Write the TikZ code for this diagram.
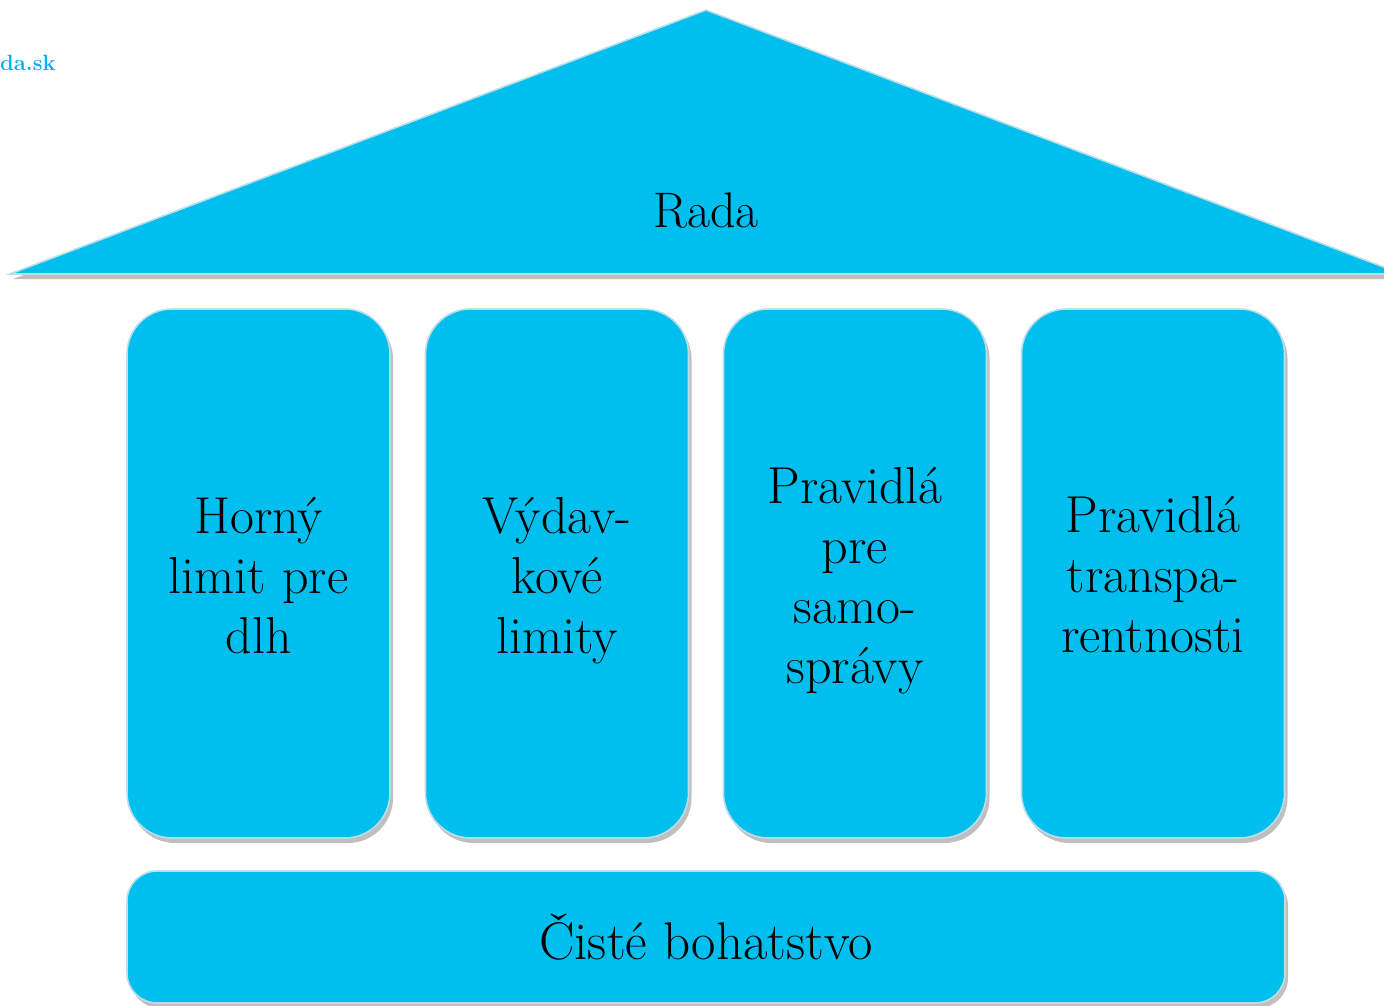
\documentclass[tikz,border=0pt]{standalone}
\usetikzlibrary{shadows}
\definecolor{pillarfill}{RGB}{0,191,238}
\definecolor{pillaredge}{RGB}{188,222,230}
\definecolor{linkblue}{RGB}{0,176,240}
\tikzset{
  pshadow/.style={drop shadow={shadow xshift=3pt, shadow yshift=-5pt, fill=black, opacity=0.25}},
  pillar/.style={pshadow, draw=pillaredge, line width=1.6pt, fill=pillarfill,
    rounded corners=45pt, minimum width=263pt, minimum height=529pt, inner sep=0pt},
  pillartext/.style={align=center, inner sep=0pt, font=\fontsize{52}{60}\selectfont},
  basebar/.style={pshadow, draw=pillaredge, line width=1.6pt, fill=pillarfill,
    rounded corners=30pt, minimum width=1158pt, minimum height=132pt, inner sep=0pt,
    font=\fontsize{53}{60}\selectfont},
}
\begin{document}
\begin{tikzpicture}[x=1pt,y=-1pt]
\useasboundingbox (0,0) rectangle (1384,1005);
\clip (0,0) rectangle (1384,1005);
% roof
\path[pshadow, draw=pillaredge, line width=1.6pt, fill=pillarfill]
  (10,274) -- (706,10) -- (1402,274) -- cycle;
\node[font=\fontsize{50}{60}\selectfont] (rada) at (706,211) {Rada};
% pillars
\node[pillar] (p1) at (258.5,573.5) {};
\node[pillar] (p2) at (557,573.5) {};
\node[pillar] (p3) at (855,573.5) {};
\node[pillar] (p4) at (1153,573.5) {};
\node[pillartext] (t1) at ([yshift=-2pt]p1.center) {Horný\\limit pre\\dlh};
\node[pillartext] (t2) at ([yshift=-7pt]p2.center) {Výdav-\\kové\\limity};
\node[pillartext] (t3) at ([yshift=-7pt]p3.center) {Pravidlá\\pre\\samo-\\správy};
\node[pillartext] (t4) at ([yshift=-1pt]p4.center) {Pravidlá\\transpa-\\rentnosti};
% base
\node[basebar] (base) at (706,937) {Čisté bohatstvo};
% truncated link text
\node[anchor=base west, inner sep=0pt, text=linkblue, font=\fontsize{22}{24}\selectfont\bfseries] (link) at (0,70) {da.sk};
\end{tikzpicture}
\end{document}
